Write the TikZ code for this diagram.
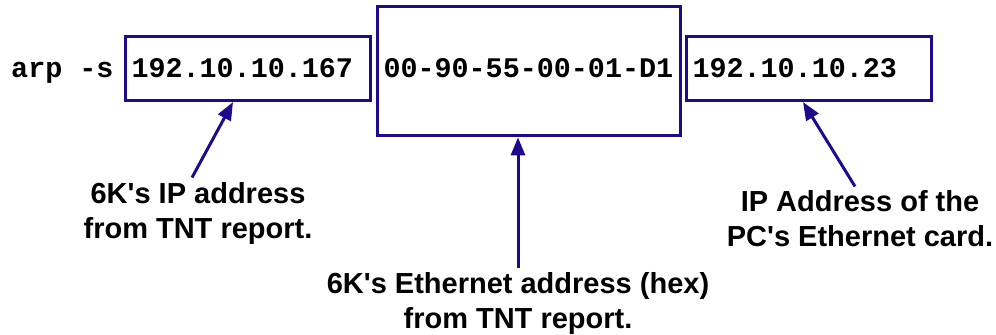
\documentclass[tikz,border=0pt]{standalone}
\usepackage{fontspec}
\setmainfont{Liberation Sans}
\setmonofont{Liberation Mono}
\usetikzlibrary{arrows.meta,positioning}
\definecolor{boxblue}{RGB}{30,10,140}

\begin{document}
\begin{tikzpicture}[x=0.5pt,y=-0.5pt,
    code/.style={draw=boxblue,line width=1.5pt,inner xsep=3pt,inner ysep=0pt,
        align=left,font=\ttfamily\bfseries\fontsize{14.2}{17}\selectfont},
    note/.style={align=center,inner sep=2pt,
        font=\bfseries\fontsize{14.5}{17.5}\selectfont},
    pointer/.style={-{Triangle[length=9pt,width=7pt]},color=boxblue,line width=1.5pt}]
    \useasboundingbox (0,0) rectangle (996,334);

    \node[code,text width=116.5pt,minimum height=32pt] (ip_6k) at (248,68.5) {192.10.10.167};
    \node[code,text width=145.5pt,minimum height=64.5pt,text depth=3pt] (mac_6k) [base right=2pt of ip_6k] {00-90-55-00-01-D1};
    \node[code,text width=116.5pt,minimum height=32pt] (ip_pc) [base right=1.5pt of mac_6k] {192.10.10.23};
    \node[code,draw=none,inner sep=0pt] (arp) [base left=4.5pt of ip_6k] {arp -s};

    \node[note] (note_ip_6k)  at (198,213) {6K\textquotesingle s IP address\\from TNT report.};
    \node[note] (note_mac_6k) at (518,303) {6K\textquotesingle s Ethernet address (hex)\\from TNT report.};
    \node[note] (note_ip_pc)  at (860,219) {IP Address of the\\PC\textquotesingle s Ethernet card.};

    \path[pointer]
        ([xshift=-3pt]note_ip_6k.north)   edge ([xshift=-7.5pt]ip_6k.south)
        (note_mac_6k.north)               edge (note_mac_6k.north |- mac_6k.south)
        ([xshift=-2.5pt]note_ip_pc.north) edge ([xshift=-3pt]ip_pc.south);
\end{tikzpicture}
\end{document}
